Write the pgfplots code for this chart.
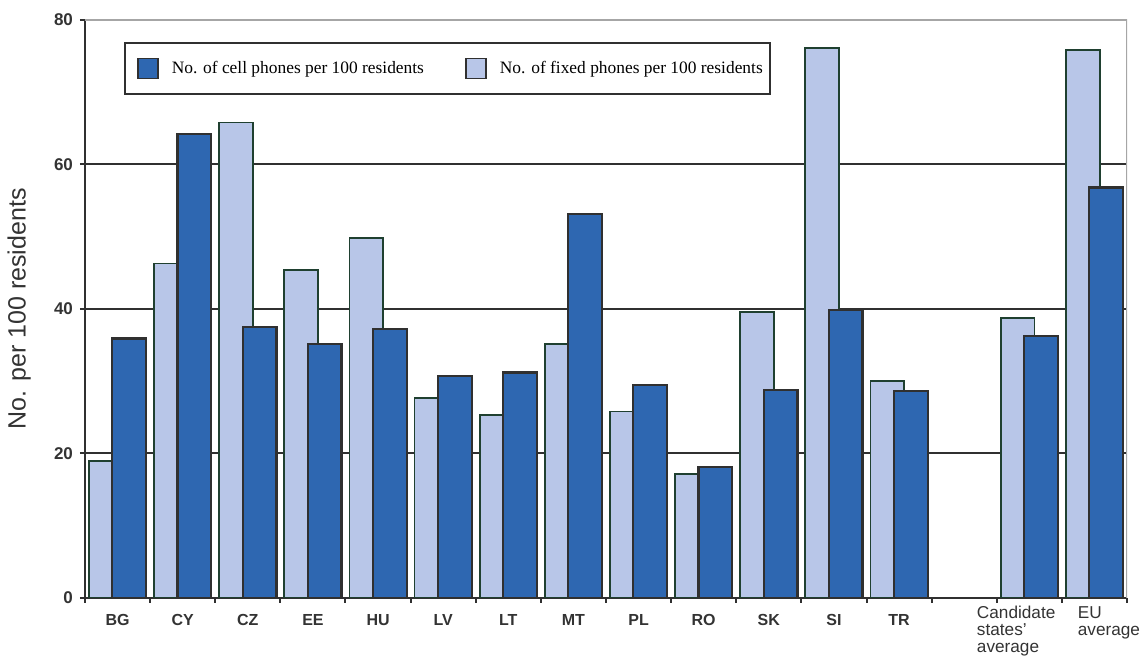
\documentclass[border=0pt]{standalone}
\usepackage{fontspec}
\setmainfont{Liberation Sans}
\newfontfamily\seriffont{Liberation Serif}
\usepackage{pgfplots}
\pgfplotsset{compat=1.18}
\definecolor{cellblue}{HTML}{2E67B1}
\definecolor{fixedblue}{HTML}{B8C6E8}
\definecolor{fixededge}{HTML}{1F4030}
\definecolor{darkedge}{HTML}{303030}
\definecolor{txt}{HTML}{333333}
\pgfplotsset{squarelegend/.style={legend image code/.code={\path[draw=none,fill=none] (0pt,-5pt) rectangle (15pt,5pt); \draw[##1] (5pt,-5pt) rectangle (15pt,5pt);}}}

\begin{document}
\begin{tikzpicture}
\begin{axis}[
  scale only axis, width=521pt, height=289pt,
  xmin=-0.5, xmax=15.5, ymin=0, ymax=80,
  ybar, bar width=0.52,
  axis x line*=bottom, axis y line*=left,
  axis line style={draw=darkedge, line width=1.1pt},
  ytick={0,20,40,60,80},
  ymajorgrids, grid style={draw=darkedge, line width=1pt},
  tick align=outside,
  major tick length=2.5pt, minor tick length=2.5pt,
  tick style={draw=darkedge, line width=1pt},
  xtick={0,...,12},
  xticklabels={BG,CY,CZ,EE,HU,LV,LT,MT,PL,RO,SK,SI,TR},
  major x tick style={draw=none},
  minor xtick={-0.5,0.5,...,15.5},
  extra x ticks={13.19,14.74},
  extra x tick labels={{Candidate\\states'\\average},{EU\\average}},
  extra x tick style={major tick length=0pt, xticklabel style={font=\fontsize{8.6}{8.4}\selectfont, anchor=north west, align=left, inner sep=0pt, yshift=-2pt}},
  xticklabel style={font=\bfseries\fontsize{8}{9}\selectfont, text=txt, yshift=-2pt},
  yticklabel style={font=\bfseries\fontsize{8.5}{9}\selectfont, text=txt},
  /pgf/number format/assume math mode=true,
  ylabel={No. per 100 residents},
  ylabel style={at={(axis description cs:-0.0633,0.5)}, anchor=center, font=\fontsize{12.5}{14}\selectfont, text=txt},
  legend columns=2,
  legend cell align=left,
  legend style={at={(0.0374,0.962)}, anchor=north west, draw=darkedge, line width=0.9pt,
    font=\seriffont\fontsize{8.7}{10}\selectfont, inner xsep=1.5pt, inner ysep=7pt,
    /tikz/every even column/.append style={column sep=14pt},
    /tikz/every odd column/.append style={column sep=4.5pt}},
]
\addlegendimage{squarelegend, fill=cellblue, draw=darkedge, line width=0.9pt}
\addlegendentry{No. of cell phones per 100 residents}
\addlegendimage{squarelegend, fill=fixedblue, draw=darkedge, line width=0.9pt}
\addlegendentry{No. of fixed phones per 100 residents}
\addplot[forget plot, bar shift=-0.18, fill=fixedblue, draw=fixededge, line width=0.9pt] coordinates {
(0,19.0) (1,46.3) (2,65.8) (3,45.4) (4,49.8) (5,27.7) (6,25.3) (7,35.2) (8,25.8) (9,17.2) (10,39.6) (11,76.1) (12,30.0) (14,38.7) (15,75.8)};
\addplot[forget plot, bar shift=0.18, fill=cellblue, draw=darkedge, line width=1.1pt] coordinates {
(0,35.9) (1,64.2) (2,37.5) (3,35.2) (4,37.2) (5,30.7) (6,31.2) (7,53.1) (8,29.5) (9,18.1) (10,28.8) (11,39.9) (12,28.6) (14,36.3) (15,56.8)};
\draw[draw=gray!70, line width=1.1pt] (rel axis cs:0,1) -- (rel axis cs:1,1) -- (rel axis cs:1,0);
\end{axis}
\pgfresetboundingbox
\path[use as bounding box] ([shift={(-42.5pt,-29pt)}]current axis.south west) rectangle ([shift={(7pt,10pt)}]current axis.north east);
\end{tikzpicture}
\end{document}
